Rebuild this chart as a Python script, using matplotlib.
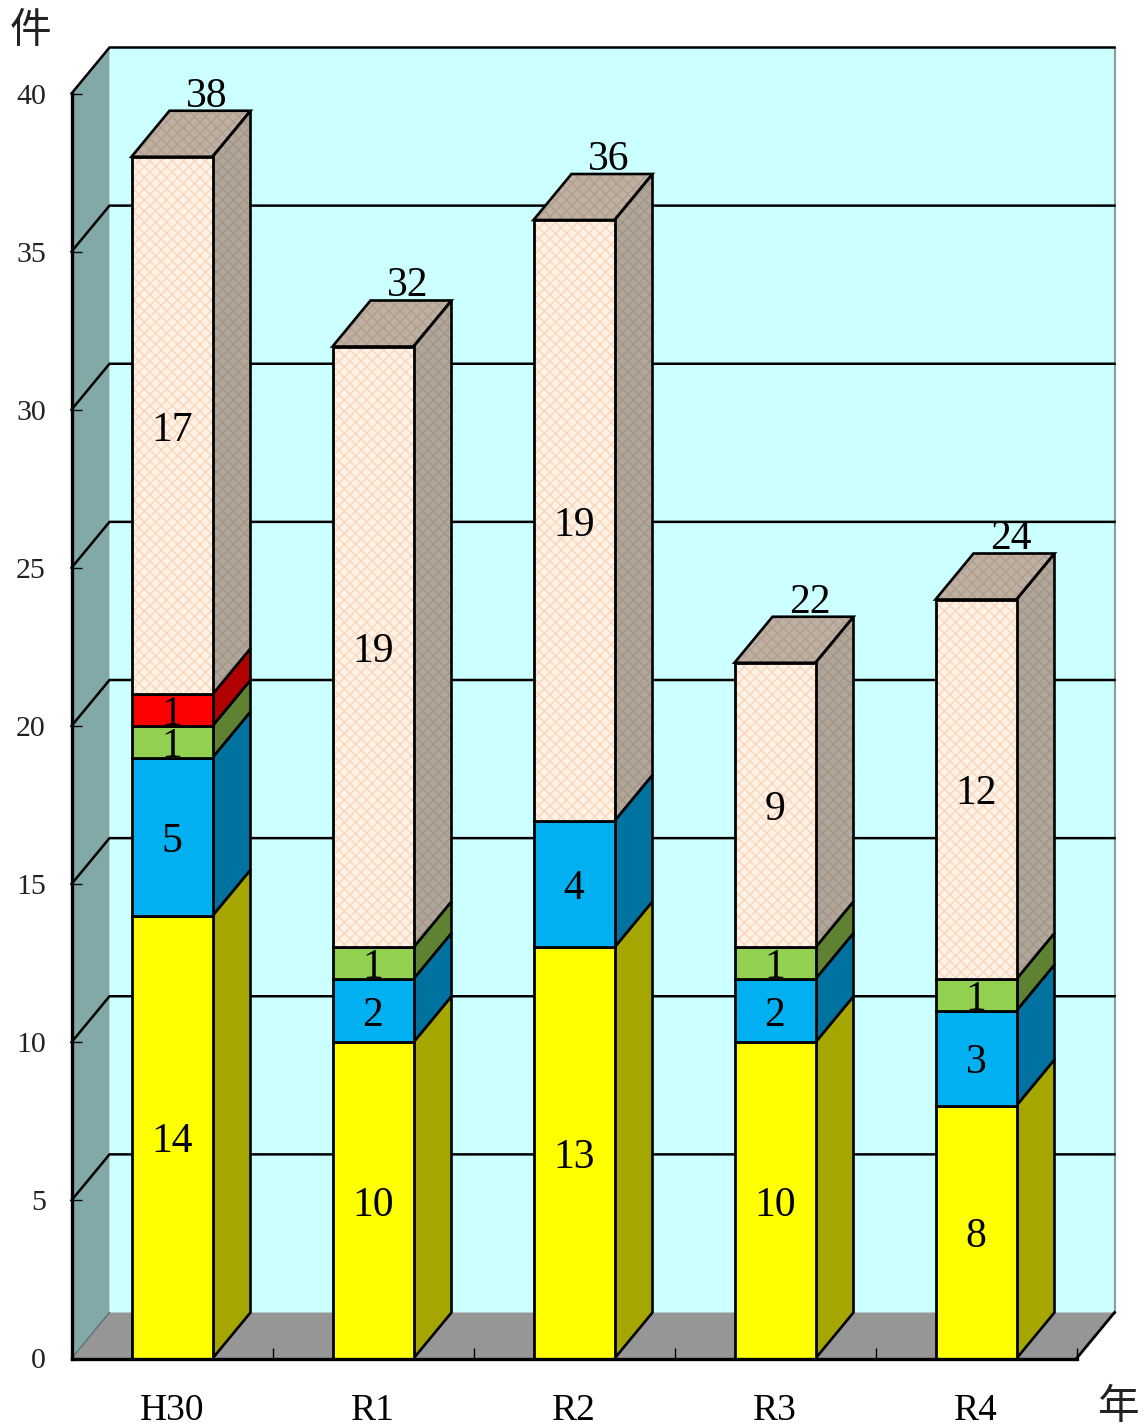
import matplotlib
matplotlib.use('Agg')
import matplotlib.pyplot as plt
from matplotlib.patches import Polygon
from matplotlib.ticker import MultipleLocator
import numpy as np

years = ['H30', 'R1', 'R2', 'R3', 'R4']
seg_yellow = [14, 10, 13, 10, 8]
seg_blue = [5, 2, 4, 2, 3]
seg_green = [1, 1, 0, 1, 1]
seg_red = [1, 0, 0, 0, 0]
seg_hatched = [17, 19, 19, 9, 12]
totals = [38, 32, 36, 22, 24]
y_ticks = [0, 5, 10, 15, 20, 25, 30, 35, 40]

W, H = 1145, 1426
SERIF = 'Liberation Serif'
CJK = 'Noto Sans CJK JP'

plt.rcParams['hatch.linewidth'] = 1.1
fig = plt.figure(figsize=(W / 100, H / 100), dpi=100)
ax = fig.add_axes([71.5 / W, (H - 1358.5) / H, 1005 / W, 1265 / H])
ax.set_xlim(-0.5, 4.5)
ax.set_ylim(0, 40)
ax.patch.set_visible(False)

# depth of the fake 3D, in data units
dx = 38 / 201
dy = 46 / 31.625
bar_w = 81 / 201
x0, x1 = -0.5, 4.5
y_top = 40


def poly(pts, **kw):
    kw.setdefault('clip_on', False)
    ax.add_patch(Polygon(pts, closed=True, **kw))


# face with a hatch in its own colour and a black outline on top
def hatched_poly(pts, fill, hatch_col, z):
    poly(pts, facecolor=fill, edgecolor='none', zorder=z)
    poly(pts, facecolor='none', edgecolor=hatch_col, linewidth=0, hatch='xxx', zorder=z + 0.05)
    poly(pts, facecolor='none', edgecolor='black', linewidth=1.9, zorder=z + 0.1)


# walls and floor
poly([(x0 + dx, dy), (x1 + dx, dy), (x1 + dx, y_top + dy), (x0 + dx, y_top + dy)],
     facecolor='#CCFFFF', edgecolor='none', zorder=1)
poly([(x0, 0), (x0 + dx, dy), (x0 + dx, y_top + dy), (x0, y_top)],
     facecolor='#82A8A8', edgecolor='none', zorder=1)
poly([(x0, 0), (x1, 0), (x1 + dx, dy), (x0 + dx, dy)],
     facecolor='#969696', edgecolor='none', zorder=1.2)
ax.plot([x1 + dx, x1 + dx], [dy, y_top + dy], color='#8C9C9C', lw=1.5, zorder=1.3, clip_on=False)
ax.plot([x0, x0 + dx], [0, dy], color='#607070', lw=1, zorder=1.3, clip_on=False)
ax.plot([x1, x1 + dx], [0, dy], color='black', lw=2, zorder=1.3, clip_on=False)

# gridlines on the wall
for t in y_ticks[1:]:
    ax.plot([x0, x0 + dx, x1 + dx], [t, t + dy, t + dy], color='black', lw=1.8,
            zorder=1.5, clip_on=False, solid_joinstyle='miter')

series = [
    (seg_yellow, '#FFFF00', '#A6A600', False),
    (seg_blue, '#00B0F0', '#00729F', False),
    (seg_green, '#92D050', '#5F8232', False),
    (seg_red, '#FF0000', '#B00000', False),
    (seg_hatched, '#FFF3E8', '#B2A69A', True),
]

xs = np.arange(len(years))
bottom = np.zeros(len(years))
for vals, front, side, hatched in series:
    vals = np.array(vals)
    for i, v in enumerate(vals):
        if v == 0:
            continue
        b = bottom[i]
        l = xs[i] - bar_w / 2
        r = xs[i] + bar_w / 2
        t = b + v
        side_pts = [(r, b), (r + dx, b + dy), (r + dx, t + dy), (r, t)]
        if hatched:
            ax.bar(xs[i], v, bar_w, bottom=b, facecolor=front, edgecolor='#FAD8BE',
                   linewidth=0, hatch='xxx', zorder=3)
            ax.bar(xs[i], v, bar_w, bottom=b, facecolor='none', edgecolor='black',
                   linewidth=2, zorder=3.2)
            hatched_poly(side_pts, side, '#A3978A', 2.5)
            hatched_poly([(l, t), (r, t), (r + dx, t + dy), (l + dx, t + dy)],
                         '#BFB0A2', '#AFA091', 2.5)
        else:
            ax.bar(xs[i], v, bar_w, bottom=b, color=front, edgecolor='black',
                   linewidth=2, zorder=3)
            poly(side_pts, facecolor=side, edgecolor='black', linewidth=1.9, zorder=2.5)
        ax.annotate(str(v), (xs[i], b + v / 2), xytext=(0, -3.6), textcoords='offset points',
                    ha='center', va='center', fontsize=30, family=SERIF, color='black', zorder=5)
    bottom = bottom + vals

for i, tot in enumerate(totals):
    ax.annotate(str(tot), (xs[i] + 35 / 201, tot + dy), xytext=(0, -3.5),
                textcoords='offset points', ha='center', va='bottom', fontsize=30,
                family=SERIF, color='black', zorder=5, annotation_clip=False)

# axes
for s in ['top', 'right']:
    ax.spines[s].set_visible(False)
for s in ['left', 'bottom']:
    ax.spines[s].set_linewidth(2.4)
    ax.spines[s].set_zorder(4)
ax.set_yticks(y_ticks)
ax.set_yticklabels([str(t) for t in y_ticks], fontsize=21.5, family=SERIF, color='#222222')
ax.set_xticks(xs)
ax.set_xticklabels(years, fontsize=27, family=SERIF, color='black')
ax.xaxis.set_minor_locator(MultipleLocator(1, offset=0.5))
ax.tick_params(axis='y', direction='in', length=7, width=1, pad=18.5)
ax.tick_params(axis='x', which='major', length=0, pad=25)
ax.tick_params(axis='x', which='minor', direction='in', length=8, width=1)

fig.text(30 / W, 1 - 31 / H, '件', fontsize=30, family=CJK, ha='center', va='center', color='#222222')
fig.text(1119 / W, 1 - 1408 / H, '年', fontsize=30, family=CJK, ha='center', va='center', color='#222222')

fig.savefig('out.png', dpi=100, facecolor='white')
